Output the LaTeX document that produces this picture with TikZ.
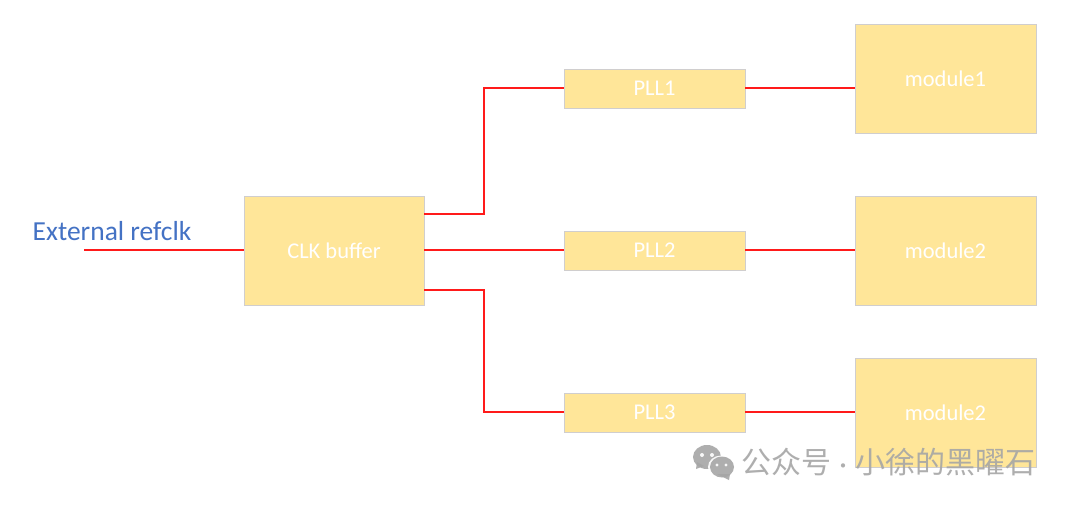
\documentclass[tikz,border=0pt]{standalone}
\usepackage{fontspec}
\setmainfont{Carlito}
\newfontfamily\cjk{Noto Sans CJK SC}
\definecolor{boxfill}{HTML}{FFE699}
\definecolor{boxline}{HTML}{D0CECE}
\definecolor{wire}{HTML}{FF1A1A}
\definecolor{lbl}{HTML}{4472C4}
\definecolor{wm}{HTML}{A6A6A6}
\begin{document}
\begin{tikzpicture}[x=1pt,y=-1pt,
  blk/.style={draw=boxline,line width=0.8pt,fill=boxfill,text=white,font=\fontsize{22.5}{26}\selectfont,inner sep=0pt,anchor=center},
  wireline/.style={draw=wire,line width=2.6pt}]
\useasboundingbox (0,0) rectangle (1080,506);
\fill[white] (0,0) rectangle (1080,506);
\node[blk,minimum width=180pt,minimum height=109pt] (buf) at (334,250.5) {CLK buffer};
\node[blk,minimum width=181pt,minimum height=39pt] (p1) at (654.5,88.5) {PLL1};
\node[blk,minimum width=181pt,minimum height=39pt] (p2) at (654.5,250.5) {PLL2};
\node[blk,minimum width=181pt,minimum height=39pt] (p3) at (654.5,412.5) {PLL3};
\node[blk,minimum width=181pt,minimum height=109pt] (m1) at (945.5,78.5) {module1};
\node[blk,minimum width=181pt,minimum height=109pt] (m2) at (945.5,250.5) {module2};
\node[blk,minimum width=181pt,minimum height=109pt] (m3) at (945.5,412.5) {module2};
\node[text=lbl,font=\fontsize{27.5}{32}\selectfont,inner sep=0pt] (ext) at (112,231) {External refclk};
\coordinate (in) at (84,250);
\draw[wireline] (in) -- (buf.west |- in);
\draw[wireline] (buf.east |- 0,214) -- (484,214) -- (484,88) -- (p1.west |- 0,88);
\draw[wireline] (buf.east |- 0,250) -- (p2.west |- 0,250);
\draw[wireline] (buf.east |- 0,290) -- (484,290) -- (484,412) -- (p3.west |- 0,412);
\draw[wireline] (p1.east |- 0,88) -- (m1.west |- 0,88);
\draw[wireline] (p2.east |- 0,250) -- (m2.west |- 0,250);
\draw[wireline] (p3.east |- 0,412) -- (m3.west |- 0,412);
% watermark
\begin{scope}[opacity=0.9]
\fill[wm] (707,457) ellipse (14pt and 12pt);
\fill[white] (721,467) ellipse (13pt and 11.5pt);
\fill[wm] (722,467) ellipse (12pt and 10.5pt);
\fill[wm] (717,474) -- (730,474) -- (729,480) -- cycle;
\fill[wm] (697,462) -- (704,466) -- (696,469) -- cycle;
\fill[white] (702,455) circle (2pt);
\fill[white] (712,455) circle (2pt);
\fill[white] (717,465) circle (1.7pt);
\fill[white] (726,465) circle (1.7pt);
\node[text=wm,font=\cjk\fontsize{30}{34}\selectfont,inner sep=0pt,anchor=west] (wmt) at (741,462) {公众号\hspace{2pt}{\fontsize{20}{24}\selectfont·}\hspace{2pt}小徐的黑曜石};
\end{scope}
\end{tikzpicture}
\end{document}
